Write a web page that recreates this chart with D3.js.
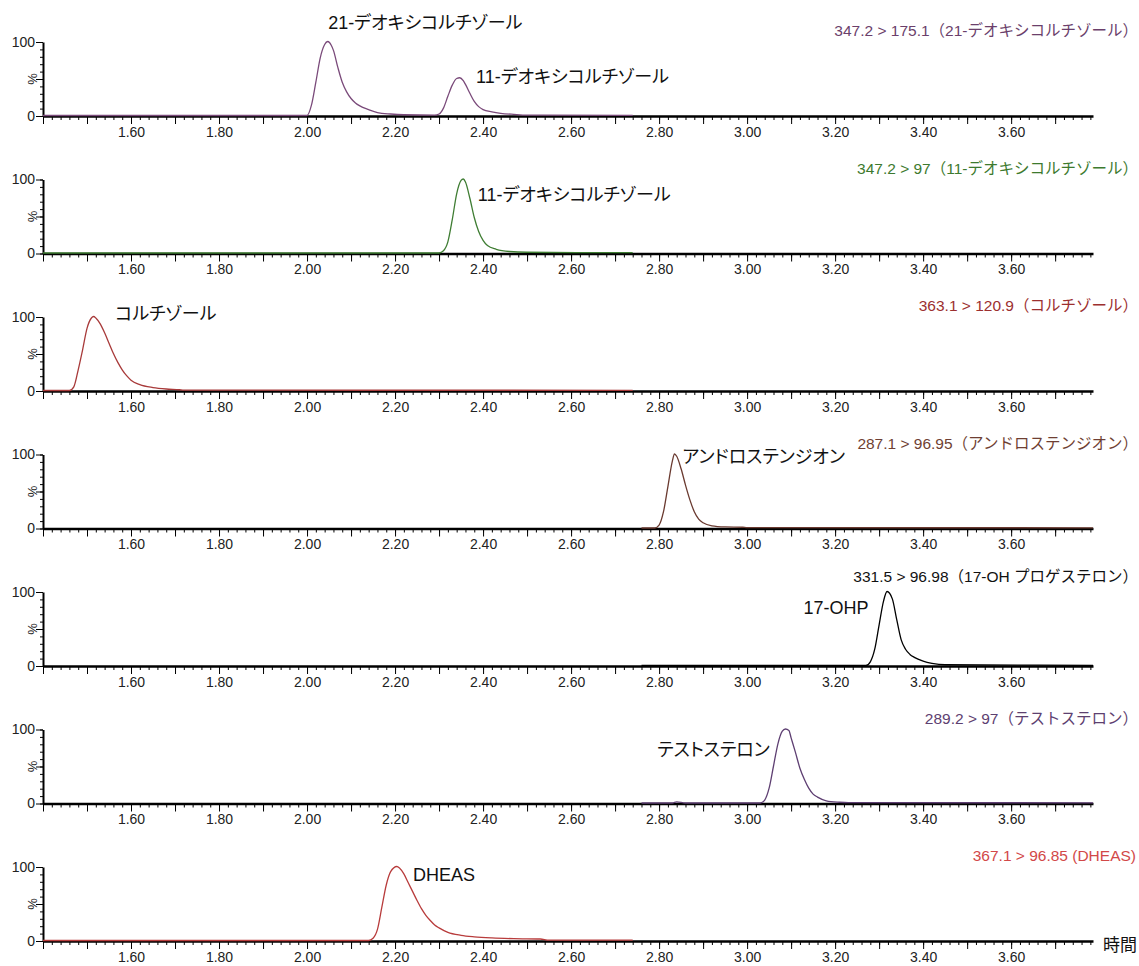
<!DOCTYPE html>
<html>
<head>
<meta charset="utf-8">
<script src="https://cdn.jsdelivr.net/npm/d3@7"></script>
<style>
  body { margin: 0; background: #fff; }
  svg text { font-family: "Liberation Sans", Arial, "Noto Sans CJK JP", sans-serif; }
  .peak-name { font-feature-settings: "palt"; }
</style>
</head>
<body>
<svg id="chart" width="1139" height="966"></svg>
<script>
// ---- データ ----
const timeLabels = [1.60, 1.80, 2.00, 2.20, 2.40, 2.60, 2.80, 3.00, 3.20, 3.40, 3.60];

const channelLabels = [
  "347.2 > 175.1（21-デオキシコルチゾール）",
  "347.2 > 97（11-デオキシコルチゾール）",
  "363.1 > 120.9（コルチゾール）",
  "287.1 > 96.95（アンドロステンジオン）",
  "331.5 > 96.98（17-OH プロゲステロン）",
  "289.2 > 97（テストステロン）",
  "367.1 > 96.85 (DHEAS)"
];

const labelColors = ["#6b3f6b", "#3d7a2e", "#9c2f2f", "#6f3f33", "#111111", "#5d4070", "#d24848"];
const traceColors = ["#7a4a7a", "#3f7d33", "#a83a3a", "#6a3a30", "#000000", "#5e3f72", "#b83c3c"];

// ピーク名: [パネル, 時間, %, 文字, anchor]
const peakNames = [
  [0, 2.048, 126, "21-デオキシコルチゾール", "start"],
  [0, 2.384, 53, "11-デオキシコルチゾール", "start"],
  [1, 2.388, 79, "11-デオキシコルチゾール", "start"],
  [2, 1.564, 104, "コルチゾール", "start"],
  [3, 2.853, 97, "アンドロステンジオン", "start"],
  [4, 3.276, 78, "17-OHP", "end"],
  [5, 2.796, 72, "テストステロン", "start"],
  [6, 2.241, 89, "DHEAS", "start"]
];

// クロマトグラム [時間(分), 相対強度 %]
const trace1 = [[1.40,0],[2.00,0],[2.01,14],[2.02,45],[2.03,78],[2.04,96],[2.047,100],[2.055,95],
  [2.06,88],[2.07,65],[2.08,45],[2.09,32],[2.10,23],[2.11,17],[2.12,13],[2.14,8],[2.16,4],[2.19,2],[2.22,1],
  [2.29,0.5],[2.30,2],[2.31,10],[2.32,26],[2.33,41],[2.34,50],[2.347,51],[2.355,47],[2.36,42],[2.37,30],
  [2.38,19],[2.39,12],[2.40,8],[2.42,5],[2.44,3],[2.47,1.5],[2.50,0.5],[2.74,0.3]];
const trace2 = [[1.40,0],[2.30,0],[2.31,3],[2.32,15],[2.33,45],[2.34,80],[2.35,98],[2.355,100],[2.36,96],
  [2.37,74],[2.38,48],[2.39,29],[2.40,17],[2.41,10],[2.43,5],[2.46,2],[2.50,1],[2.74,0.4]];
const trace3 = [[1.40,0],[1.46,0],[1.47,5],[1.48,28],[1.49,55],[1.50,84],[1.51,98],[1.515,100],[1.52,98],
  [1.53,90],[1.54,78],[1.55,64],[1.56,50],[1.57,38],[1.58,28],[1.59,20],[1.60,14],[1.62,8],[1.65,4],
  [1.68,2],[1.71,1],[1.72,0.4],[2.74,0.3]];
const trace4 = [[2.76,0],[2.79,0],[2.80,4],[2.81,22],[2.82,56],[2.83,90],[2.835,100],[2.84,97],[2.85,80],
  [2.86,58],[2.87,38],[2.88,22],[2.89,12],[2.90,7],[2.92,3],[2.95,1.5],[2.99,1],[3.00,0.4],[3.786,0.3]];
const trace5 = [[2.76,0],[3.27,0],[3.28,5],[3.29,22],[3.30,55],[3.31,87],[3.318,100],[3.33,90],[3.34,62],
  [3.35,35],[3.36,22],[3.37,15],[3.38,11],[3.40,6],[3.42,3],[3.45,1],[3.786,0.3]];
const trace6 = [[2.76,0],[2.83,0],[2.84,1.5],[2.86,0],[3.03,0],[3.04,4],[3.05,20],[3.06,50],[3.07,80],
  [3.08,97],[3.087,100],[3.095,98],[3.10,88],[3.11,68],[3.12,47],[3.13,32],[3.14,20],[3.15,12],[3.16,8],
  [3.18,3],[3.21,1],[3.23,0.4],[3.786,0.3]];
const trace7 = [[1.40,0],[2.14,0],[2.15,3],[2.16,15],[2.17,45],[2.18,75],[2.19,93],[2.204,100],[2.21,98],
  [2.22,90],[2.23,78],[2.24,66],[2.25,54],[2.26,43],[2.27,34],[2.28,27],[2.29,21],[2.30,17],[2.32,11],
  [2.35,7],[2.38,5],[2.42,3.5],[2.47,2.5],[2.53,2],[2.55,0.5],[2.74,0.5]];

const traces = [trace1, trace2, trace3, trace4, trace5, trace6, trace7];

// ---- 描画 ----
const svg = d3.select("#chart");
const x = d3.scaleLinear().domain([1.40, 3.786]).range([43, 1093]);

const panelTop = 116, panelStep = 137.5, panelH = 74;
const labelSet = new Set(timeLabels.map(d => Math.round(d * 100)));

traces.forEach((tr, i) => {
  const base = panelTop + i * panelStep;
  const y = d3.scaleLinear().domain([0, 100]).range([base, base - panelH]);
  const g = svg.append("g");

  // X 軸 (副目盛り 0.02, 主目盛り 0.1)
  const minor = d3.range(140, 379, 2).map(d => d / 100);
  const major = d3.range(14, 38).map(d => d / 10);

  g.append("g")
    .attr("transform", `translate(0,${base})`)
    .call(d3.axisBottom(x).tickValues(minor).tickSize(4).tickSizeOuter(0).tickFormat(""))
    .call(a => a.select(".domain").attr("stroke-width", 2.6));

  g.append("g")
    .attr("transform", `translate(0,${base})`)
    .call(d3.axisBottom(x).tickValues(major).tickSize(8).tickSizeOuter(0)
      .tickFormat(d => labelSet.has(Math.round(d * 100)) ? d.toFixed(2) : ""))
    .call(a => a.select(".domain").remove())
    .call(a => a.selectAll("text").attr("font-size", 14).attr("fill", "#222")
      .style("font-family", "'Liberation Sans', Arial, sans-serif"));

  // Y 軸
  g.append("g")
    .attr("transform", "translate(43,0)")
    .call(d3.axisLeft(y).tickValues(d3.range(0, 101, 10)).tickSize(3).tickSizeOuter(0).tickFormat(""))
    .call(a => a.select(".domain").attr("stroke-width", 2));

  g.append("g")
    .attr("transform", "translate(43,0)")
    .call(d3.axisLeft(y).tickValues([0, 50, 100]).tickSize(7).tickPadding(1).tickSizeOuter(0)
      .tickFormat(d => d === 50 ? "" : d))
    .call(a => a.select(".domain").remove())
    .call(a => a.selectAll("text").attr("font-size", 14).attr("fill", "#222")
      .style("font-family", "'Liberation Sans', Arial, sans-serif"));

  g.append("text")
    .attr("transform", `translate(32,${y(50)}) rotate(-90)`)
    .attr("text-anchor", "middle")
    .attr("dominant-baseline", "central")
    .attr("font-size", 13)
    .attr("fill", "#222")
    .text("%");

  // トレース
  const line = d3.line()
    .x(d => x(d[0]))
    .y(d => y(d[1]) - 0.5)
    .curve(d3.curveMonotoneX);

  g.append("path")
    .datum(tr)
    .attr("d", line)
    .attr("fill", "none")
    .attr("stroke", traceColors[i])
    .attr("stroke-width", 1.3);

  // チャンネル名 (右上)
  const lbl = channelLabels[i];
  g.append("text")
    .attr("x", lbl.endsWith("）") ? 1138 : 1136)
    .attr("y", base - (i === 4 ? 84 : 80))
    .attr("text-anchor", "end")
    .attr("font-size", 15.5)
    .attr("fill", labelColors[i])
    .text(lbl);
});

// ピーク名
peakNames.forEach(([p, t, pct, name, anchor]) => {
  const base = panelTop + p * panelStep;
  const y = d3.scaleLinear().domain([0, 100]).range([base, base - panelH]);
  svg.append("text")
    .attr("class", "peak-name")
    .attr("x", x(t))
    .attr("y", y(pct))
    .attr("dominant-baseline", "central")
    .attr("text-anchor", anchor)
    .attr("font-size", 18)
    .attr("fill", "#111")
    .text(name);
});

// 軸タイトル
svg.append("text")
  .attr("x", 1103)
  .attr("y", panelTop + 6 * panelStep + 4)
  .attr("dominant-baseline", "central")
  .attr("font-size", 17)
  .attr("fill", "#111")
  .text("時間");
</script>
</body>
</html>
